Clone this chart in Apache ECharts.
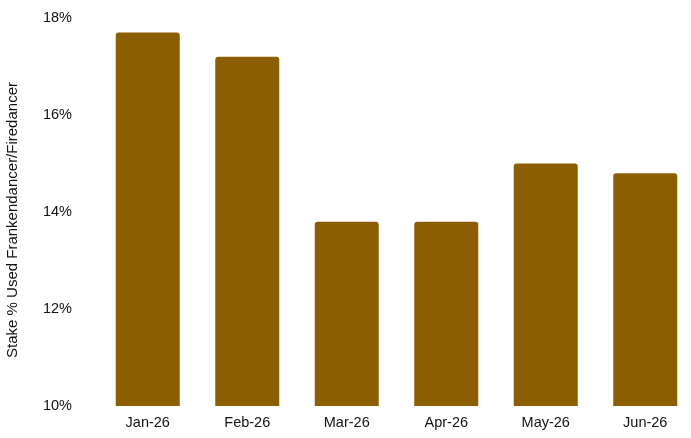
<!DOCTYPE html>
<html><head><meta charset="utf-8">
<script src="https://cdn.jsdelivr.net/npm/echarts@6/dist/echarts.min.js"></script>
<style>html,body{margin:0;padding:0;background:#fff}#c{width:691px;height:438px}</style>
</head><body><div id="c"></div>
<script>
var categories = ['Jan-26','Feb-26','Mar-26','Apr-26','May-26','Jun-26'];
var values = [17.7, 17.2, 13.8, 13.8, 15.0, 14.8];
var yTicks = [10, 12, 14, 16, 18];
var yTitle = 'Stake % Used Frankendancer/Firedancer';
var chart = echarts.init(document.getElementById('c'));
chart.setOption({
  animation: false,
  grid: {left: 98, top: 18, right: -4, bottom: 32, containLabel: false, outerBoundsMode: 'none'},
  xAxis: {
    type: 'category', data: categories,
    axisLine: {show: false}, axisTick: {show: false},
    axisLabel: {color: '#111', fontFamily: 'Liberation Sans, Arial, sans-serif', fontSize: 14.5, margin: 9}
  },
  yAxis: {
    type: 'value', min: yTicks[0], max: yTicks[yTicks.length-1], interval: 2,
    name: yTitle, nameLocation: 'middle', nameGap: 78,
    nameTextStyle: {color: '#111', fontFamily: 'Liberation Sans, Arial, sans-serif', fontSize: 15, padding: [0, 16, 0, 0]},
    axisLine: {show: false}, axisTick: {show: false}, splitLine: {show: false},
    axisLabel: {color: '#111', fontFamily: 'Liberation Sans, Arial, sans-serif', fontSize: 14.5, margin: 26,
      formatter: function(v){ return v + '%'; }}
  },
  series: [{
    type: 'bar', data: values, barWidth: 64,
    itemStyle: {color: '#8C5E02', borderRadius: [3,3,0,0]}
  }]
});
</script></body></html>
